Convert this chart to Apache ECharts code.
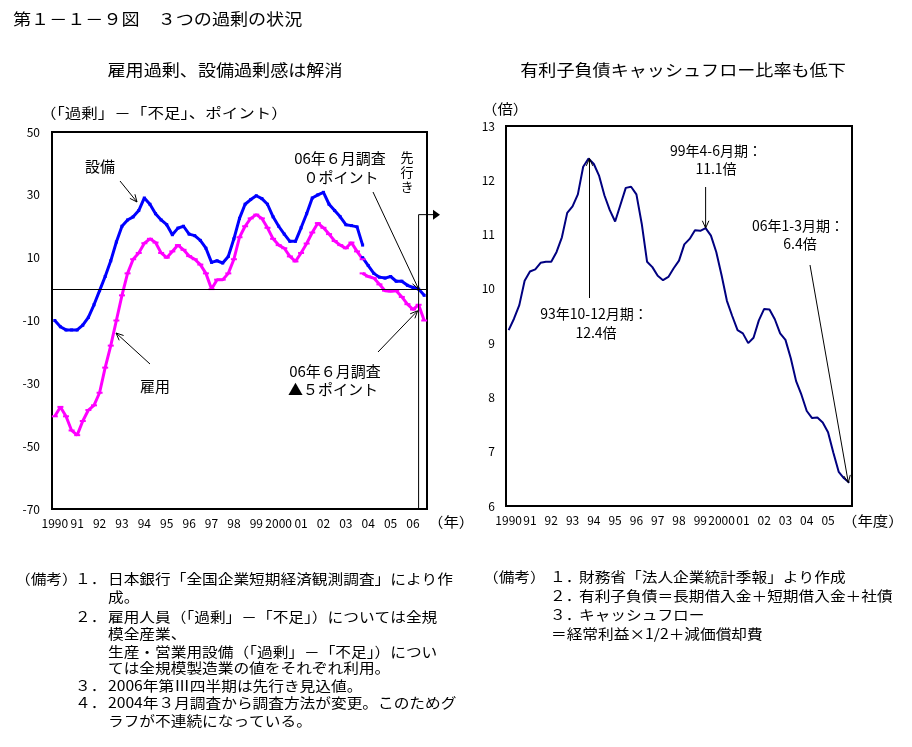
<!DOCTYPE html>
<html><head><meta charset="utf-8">
<script src="https://cdn.jsdelivr.net/npm/echarts@6/dist/echarts.min.js"></script>
<style>html,body{margin:0;padding:0;background:#fff}#c{width:912px;height:747px}</style>
</head><body><div id="c"></div>
<script>
// ---------- data ----------
const leftTickLabels = ['1990','91','92','93','94','95','96','97','98','99','2000','01','02','03','04','05','06'];
const rightTickLabels = ['1990','91','92','93','94','95','96','97','98','99','2000','01','02','03','04','05'];
// 設備 (old basis, 1990Q1-2003Q4)
const setsubiOld = [-10,-12,-13,-13,-13,-11.5,-9,-5,-0.5,4,9,15,20,22,23,25,29,27,24,22,20.5,17.3,19.4,20,17.5,17,15.5,13,8.5,9,8.3,10.4,16,22.5,27,28.5,29.7,28.8,27,23,20,17.5,15.2,15.2,19.5,24,29,30,30.8,27,25,23,20.5,20.2,19.8,14];
// 設備 (new basis, 2003Q4-2006Q3)
const setsubiNew = [10,7.5,5,3.8,3.5,4,2.5,2.5,1.2,0.5,0,-2];
// 雇用 (old basis)
const koyoOld = [-40.5,-37.5,-40.5,-45,-46.5,-42,-38.5,-37,-33,-25,-18,-10,-2,5,9.5,11.5,14.6,16,14.8,11.5,10,12,14,12.5,10.5,9.5,7.8,5,0,3,3,5,9.5,16.5,20,22.5,23.7,22.5,19.5,16,14,13,10.4,8.8,11.5,14.5,18,21,19.5,17.5,15.3,14,13,14.8,12,9.5];
// 雇用 (new basis)
const koyoNew = [5,4,3.5,1.5,-0.5,-0.7,-0.5,-2.5,-4.8,-6.5,-5,-10];
// 有利子負債キャッシュフロー比率 (1990Q1-2006Q1)
const ratio = [9.24,9.45,9.7,10.15,10.32,10.36,10.48,10.5,10.5,10.68,
  10.95,11.4,11.52,11.74,12.25,12.4,12.3,12.08,11.72,11.45,
  11.24,11.55,11.86,11.88,11.74,11.2,10.5,10.4,10.24,10.16,
  10.22,10.38,10.52,10.82,10.92,11.08,11.07,11.12,10.98,10.68,
  10.25,9.78,9.5,9.24,9.18,9.0,9.1,9.42,9.63,9.62,
  9.44,9.18,9.06,8.72,8.3,8.05,7.75,7.62,7.63,7.54,
  7.36,6.98,6.63,6.51,6.43];

const notesLeft = [
  ['１．','日本銀行「全国企業短期経済観測調査」により作'],
  ['','成。'],
  ['２．','雇用人員（「過剰」－「不足」）については全規'],
  ['','模全産業、'],
  ['','生産・営業用設備（「過剰」－「不足」）につい'],
  ['','ては全規模製造業の値をそれぞれ利用。'],
  ['３．','2006年第Ⅲ四半期は先行き見込値。'],
  ['４．','2004年３月調査から調査方法が変更。このためグ'],
  ['','ラフが不連続になっている。']
];
const notesRight = [
  ['１．','財務省「法人企業統計季報」より作成'],
  ['２．','有利子負債＝長期借入金＋短期借入金＋社債'],
  ['３．','キャッシュフロー'],
  ['','＝経常利益×1/2＋減価償却費']
];

// ---------- build ----------
const FONT = '"Noto Sans CJK JP","Noto Sans",sans-serif';
const leftCats = [];
for (let y = 1990; y <= 2006; y++) for (let q = 1; q <= 4; q++) { if (y === 2006 && q === 4) break; leftCats.push(y + 'Q' + q); }
const rightCats = [];
for (let y = 1990; y <= 2006; y++) for (let q = 1; q <= 4; q++) { if (y === 2006 && q > 1) break; rightCats.push(y + 'Q' + q); }

const newStart = setsubiOld.length - 1;
const pad = (arr) => new Array(newStart).fill(null).concat(arr);

const chart = echarts.init(document.getElementById('c'), null, {renderer: 'canvas'});

const axisLbl = {fontSize: 12, color: '#000', fontFamily: FONT};
const option = {
  animation: false,
  backgroundColor: '#fff',
  textStyle: {fontFamily: FONT},
  grid: [
    {left: 52, top: 132, width: 375, height: 377, show: true, borderColor: '#000', borderWidth: 2, backgroundColor: '#fff'},
    {left: 506, top: 126, width: 346, height: 380, show: true, borderColor: '#000', borderWidth: 2, backgroundColor: '#fff'}
  ],
  xAxis: [
    {gridIndex: 0, type: 'category', data: leftCats, boundaryGap: true,
     axisLine: {show: false}, axisTick: {show: false}, splitLine: {show: false},
     axisLabel: Object.assign({}, axisLbl, {margin: 8, hideOverlap: false,
       interval: (i) => i % 4 === 0, formatter: (v, i) => leftTickLabels[Math.floor(i / 4)]})},
    {gridIndex: 1, type: 'category', data: rightCats, boundaryGap: true,
     axisLine: {show: false}, axisTick: {show: false}, splitLine: {show: false},
     axisLabel: Object.assign({}, axisLbl, {margin: 8, hideOverlap: false,
       interval: (i) => i % 4 === 0 && i < 64, formatter: (v, i) => rightTickLabels[Math.floor(i / 4)] || ''})}
  ],
  yAxis: [
    {gridIndex: 0, type: 'value', min: -70, max: 50, interval: 20,
     axisLine: {show: false}, axisTick: {show: false}, splitLine: {show: false},
     axisLabel: Object.assign({}, axisLbl, {margin: 12})},
    {gridIndex: 1, type: 'value', min: 6, max: 13, interval: 1,
     axisLine: {show: false}, axisTick: {show: false}, splitLine: {show: false},
     axisLabel: Object.assign({}, axisLbl, {margin: 11})}
  ],
  series: [
    {name: '設備', type: 'line', xAxisIndex: 0, yAxisIndex: 0, data: setsubiOld,
     color: '#0000FF', lineStyle: {width: 3, color: '#0000FF'}, symbol: 'rect', symbolSize: 3,
     itemStyle: {color: '#0000FF'},
     markLine: {silent: true, symbol: 'none', label: {show: false},
       lineStyle: {color: '#000', width: 1, type: 'solid'}, data: [{yAxis: 0}]}},
    {name: '設備(新)', type: 'line', xAxisIndex: 0, yAxisIndex: 0, data: pad(setsubiNew),
     color: '#0000FF', lineStyle: {width: 3, color: '#0000FF'}, symbol: 'rect', symbolSize: 3,
     itemStyle: {color: '#0000FF'}},
    {name: '雇用', type: 'line', xAxisIndex: 0, yAxisIndex: 0, data: koyoOld,
     lineStyle: {width: 3, color: '#FF00FF'}, symbol: 'rect', symbolSize: [6, 2],
     itemStyle: {color: '#FF00FF'}},
    {name: '雇用(新)', type: 'line', xAxisIndex: 0, yAxisIndex: 0, data: pad(koyoNew),
     lineStyle: {width: 3, color: '#FF00FF'}, symbol: 'rect', symbolSize: [6, 2],
     itemStyle: {color: '#FF00FF'}},
    {name: '比率', type: 'line', xAxisIndex: 1, yAxisIndex: 1, data: ratio,
     lineStyle: {width: 2, color: '#000080'}, symbol: 'none', itemStyle: {color: '#000080'}}
  ]
};
chart.setOption(option);

// ---------- annotations ----------
const P = (g, cat, val) => chart.convertToPixel({gridIndex: g}, [cat, val]);
function T(text, x, y, o) {
  o = o || {};
  const al = o.align || 'left';
  return {type: 'text', x: x, y: y, scaleX: o.sx || 1, z: 100,
    style: {text: text, fill: '#000', font: (o.size || 15) + 'px ' + FONT,
      textAlign: al, align: al, textVerticalAlign: 'middle', verticalAlign: 'middle',
      lineHeight: o.lh}};
}
function L(x1, y1, x2, y2, w) {
  return {type: 'line', z: 100, shape: {x1: x1, y1: y1, x2: x2, y2: y2}, style: {stroke: '#000', lineWidth: w || 1}};
}
function A(x1, y1, x2, y2) {
  const a = Math.atan2(y2 - y1, x2 - x1), h = 8, s = 0.42;
  return [L(x1, y1, x2, y2),
    {type: 'polyline', z: 100, shape: {points: [[x2 - h * Math.cos(a - s), y2 - h * Math.sin(a - s)], [x2, y2], [x2 - h * Math.cos(a + s), y2 - h * Math.sin(a + s)]]},
     style: {stroke: '#000', lineWidth: 1, fill: null}}];
}

const els = [];
// titles
els.push(T('第１－１－９図　３つの過剰の状況', 13, 19, {size: 16, sx: 1.13}));
els.push(T('雇用過剰、設備過剰感は解消', 225, 70, {size: 16, sx: 1.13, align: 'center'}));
els.push(T('有利子負債キャッシュフロー比率も低下', 683, 70, {size: 16, sx: 1.13, align: 'center'}));
els.push(T('（「過剰」－「不足」、ポイント）', 40, 113, {size: 14, sx: 1.18}));
els.push(T('（倍）', 482, 109, {size: 14, sx: 1.1}));
els.push(T('（年）', 428, 522, {size: 14, sx: 1.1}));
els.push(T('（年度）', 842, 521, {size: 14, sx: 1.1}));

// left annotations
els.push(T('設備', 100, 166, {align: 'center'}));
els.push(...A(120, 181, 137, 202));
els.push(T('06年６月調査', 340, 158, {align: 'center'}));
els.push(T('０ポイント', 341, 177, {align: 'center'}));
els.push(T('先\n行\nき', 407, 172, {align: 'center', size: 13, lh: 15}));
const pB = P(0, leftCats[65], setsubiNew[10]);
els.push(...A(373, 192, pB[0], pB[1]));
const xv = P(0, leftCats[65], 0)[0];
const yTop = P(0, leftCats[65], 23.7)[1];
const yBot = P(0, leftCats[65], -70)[1];
els.push(L(xv, yTop, xv, yBot));
els.push(L(xv, yTop, 433, yTop));
els.push({type: 'polygon', z: 100, shape: {points: [[433, yTop - 5], [440, yTop], [433, yTop + 5]]}, style: {fill: '#000'}});
els.push(T('雇用', 155, 386, {align: 'center'}));
els.push(...A(150, 364, 116, 333));
els.push(T('06年６月調査', 335, 371, {align: 'center'}));
els.push(T('▲５ポイント', 333, 389, {align: 'center'}));
const pK = P(0, leftCats[65], koyoNew[10]);
els.push(...A(378, 352, pK[0] - 1, pK[1] + 6));

// right annotations
els.push(T('99年4-6月期：', 716, 151, {align: 'center', size: 14}));
els.push(T('11.1倍', 716, 169, {align: 'center', size: 14}));
const p99 = P(1, rightCats[37], ratio[37]);
els.push(...A(p99[0], 187, p99[0], p99[1]));
els.push(T('93年10-12月期：', 594, 314, {align: 'center', size: 14}));
els.push(T('12.4倍', 596, 333, {align: 'center', size: 14}));
const p93 = P(1, rightCats[15], ratio[15]);
els.push(...A(p93[0] + 1, 298, p93[0] + 1, p93[1]));
els.push(T('06年1-3月期：', 798, 226, {align: 'center', size: 14}));
els.push(T('6.4倍', 800, 244, {align: 'center', size: 14}));
const p06 = P(1, rightCats[64], ratio[64]);
els.push(...A(810, 265, p06[0] - 1, p06[1]));

// notes
const nlY = [579, 597, 617, 634, 652, 668, 686, 703, 721];
els.push(T('（備考）', 15, nlY[0], {size: 14, sx: 1.12}));
notesLeft.forEach((r, i) => {
  if (r[0]) els.push(T(r[0], 75, nlY[i], {size: 14, sx: 1.12}));
  els.push(T(r[1], 108, nlY[i], {size: 14, sx: 1.12}));
});
const nrY = [577, 596, 615, 634];
els.push(T('（備考）', 483, nrY[0], {size: 14, sx: 1.12}));
notesRight.forEach((r, i) => {
  if (r[0]) els.push(T(r[0], 550, nrY[i], {size: 14, sx: 1.12}));
  els.push(T(r[1], r[0] ? 579 : 551, nrY[i], {size: 14, sx: 1.12}));
});

chart.setOption({graphic: {elements: els}});
</script></body></html>
